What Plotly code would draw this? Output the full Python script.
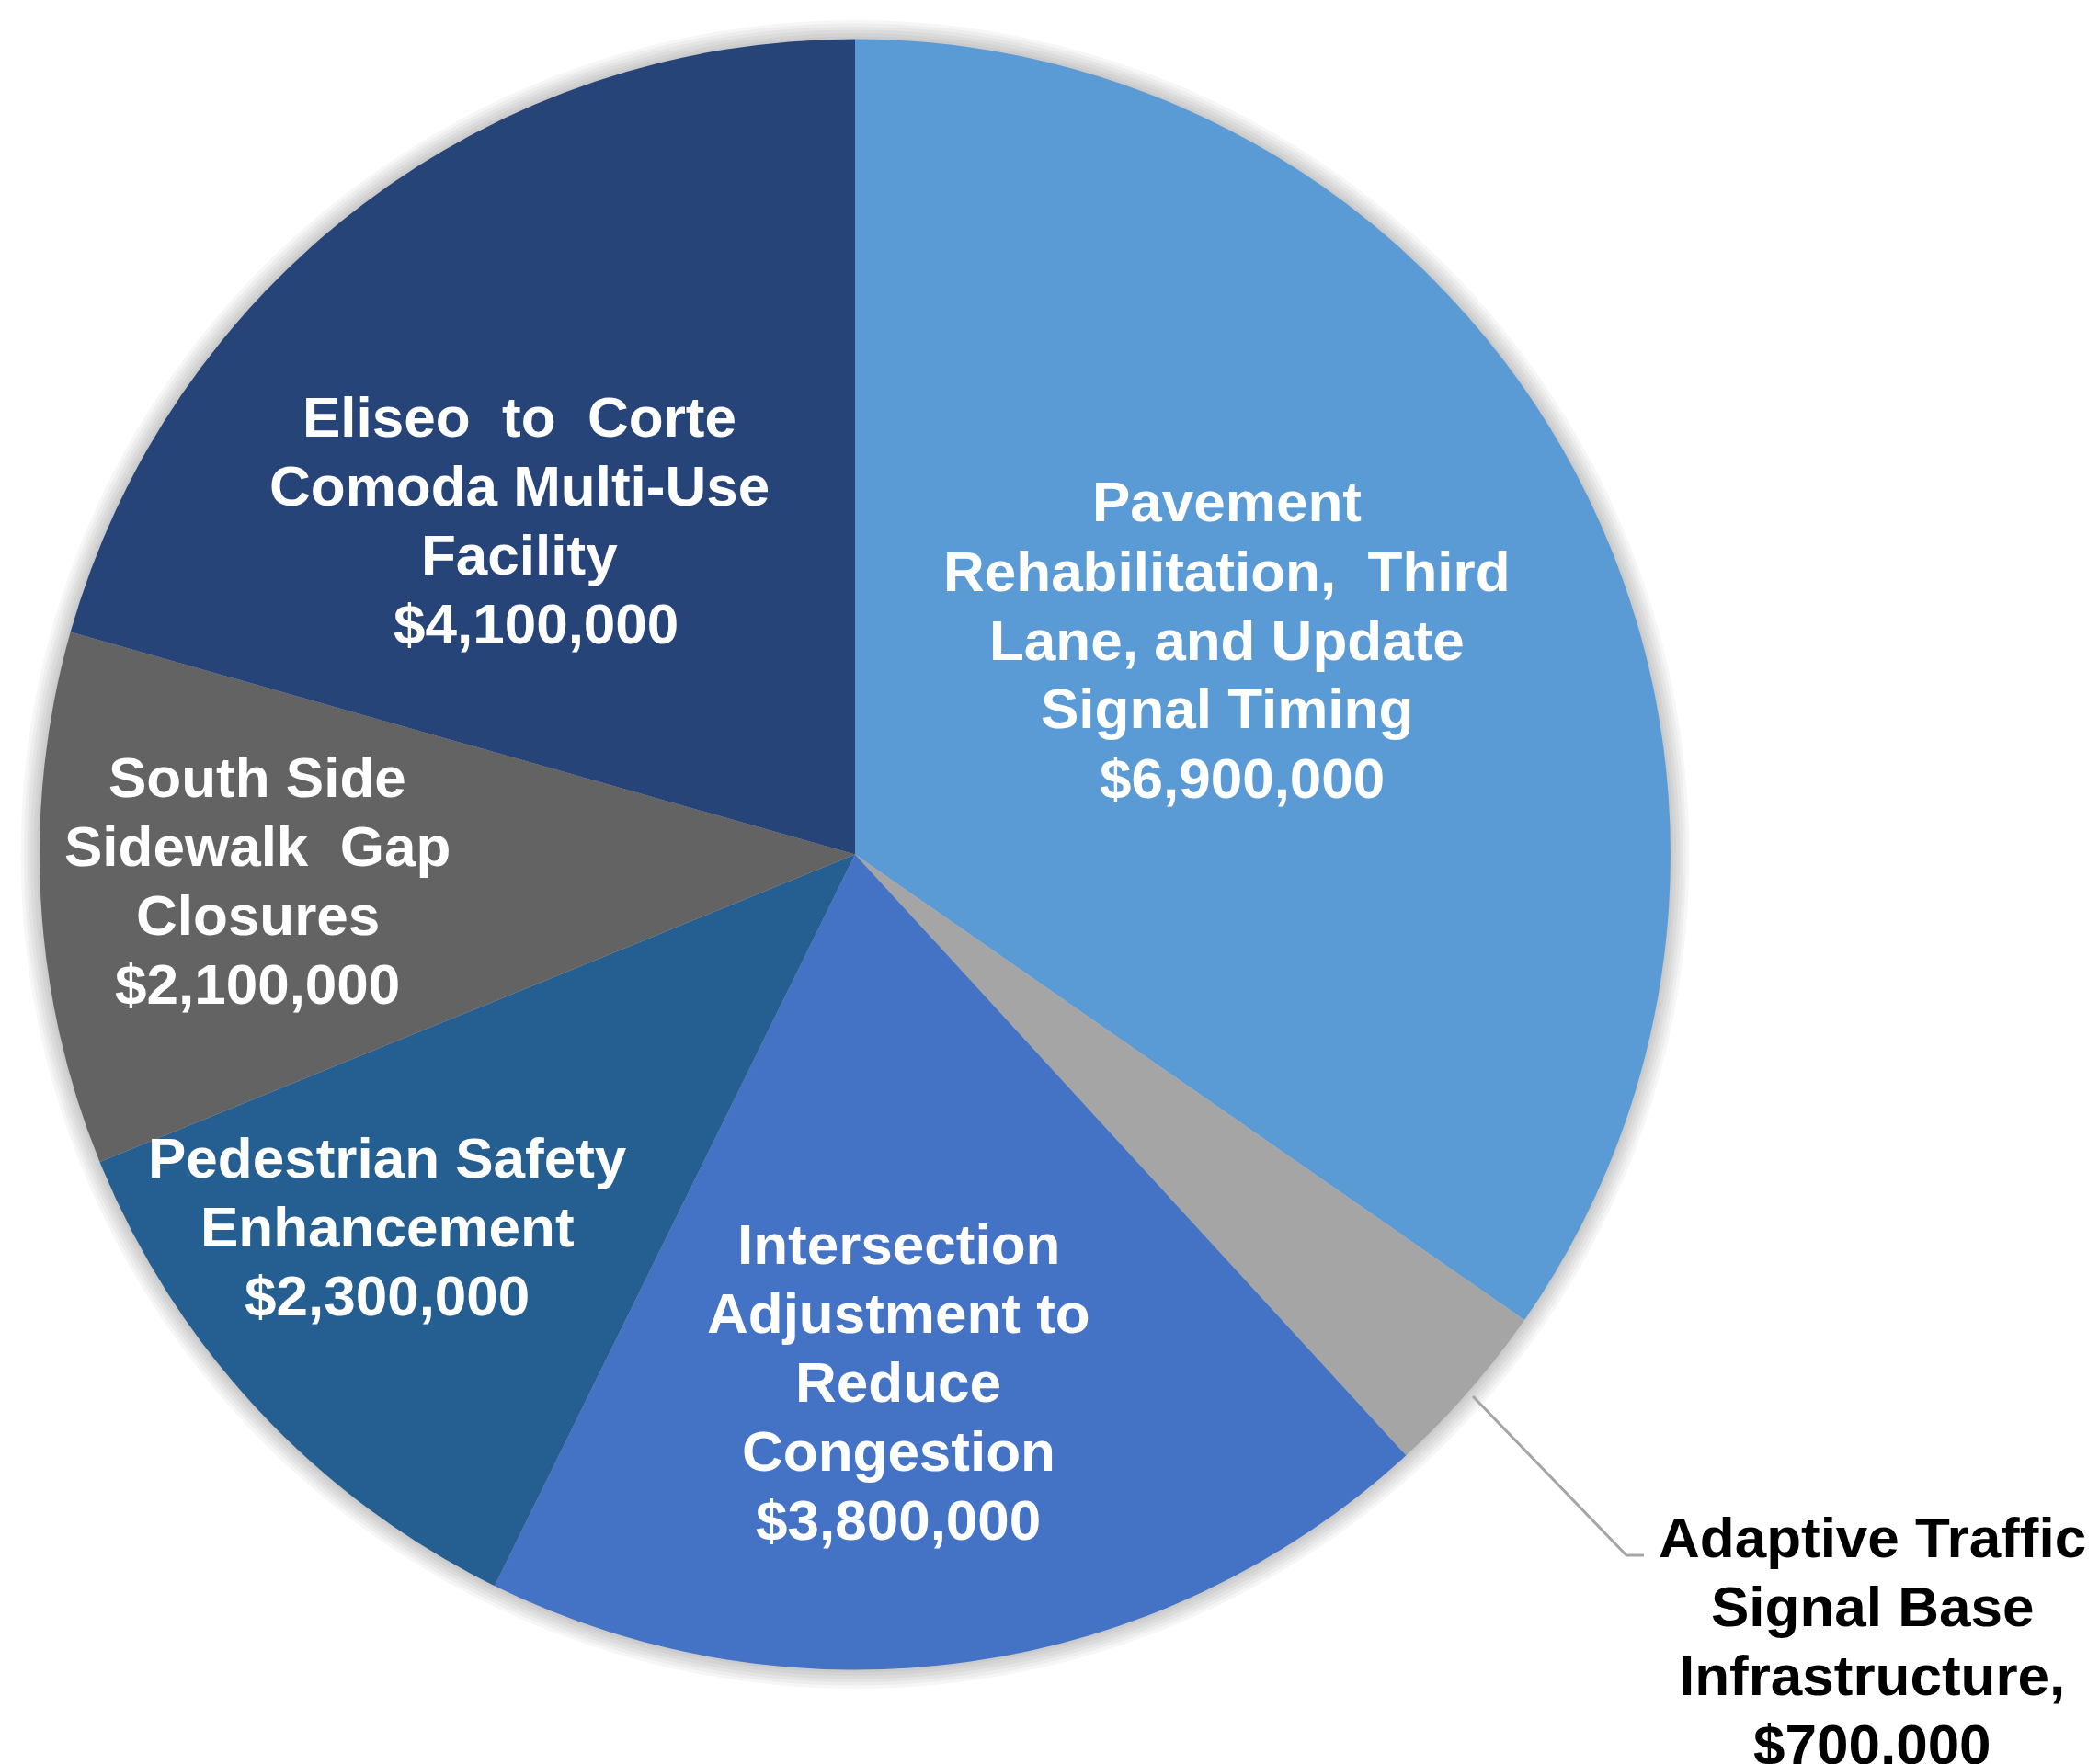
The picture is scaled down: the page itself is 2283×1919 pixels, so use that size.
import plotly.graph_objects as go

# ---- data ----
projects = [
    "Pavement Rehabilitation, Third Lane, and Update Signal Timing",
    "Adaptive Traffic Signal Base Infrastructure",
    "Intersection Adjustment to Reduce Congestion",
    "Pedestrian Safety Enhancement",
    "South Side Sidewalk Gap Closures",
    "Eliseo to Corte Comoda Multi-Use Facility",
]
costs = [6900000, 700000, 3800000, 2300000, 2100000, 4100000]
label_lines = [
    ["Pavement", "Rehabilitation,  Third", "Lane, and Update", "Signal Timing"],
    ["Adaptive Traffic", "Signal Base", "Infrastructure,"],
    ["Intersection", "Adjustment to", "Reduce", "Congestion"],
    ["Pedestrian Safety", "Enhancement"],
    ["South Side", "Sidewalk  Gap", "Closures"],
    ["Eliseo  to  Corte", "Comoda Multi-Use", "Facility"],
]

# ---- styles / layout ----
colors = ["#5B9BD5", "#A5A5A5", "#4472C4", "#255E91", "#636363", "#264478"]
W, H = 2283, 1919
OFF = 8  # page body margin of the html page
CX, CY, R = 930, 929.5, 887
# label block centers (page pixels), value-line x shift, colours
label_pos = [(1334, 696), (2036, 1785), (977, 1503), (421, 1334), (280, 958), (565, 566)]
value_dx = [17, 0, 0, 0, 0, 18]
label_col = ["white", "black", "white", "white", "white", "white"]
FONT_SIZE = 62
LINE_STEP = 75

def px(x):
    return (x - OFF) / W

def py(y):
    return 1 - (y - OFF) / H

fig = go.Figure(go.Pie(
    labels=projects,
    values=costs,
    sort=False,
    direction="clockwise",
    rotation=0,
    marker=dict(colors=colors, line=dict(width=0)),
    textinfo="none",
    hoverinfo="skip",
    domain=dict(x=[px(CX - R), px(CX + R)], y=[py(CY + R), py(CY - R)]),
))

annotations = []
for lines, v, (lx, ly), dxv, c in zip(label_lines, costs, label_pos, value_dx, label_col):
    all_lines = lines + [f"${v:,.0f}"]
    n = len(all_lines)
    for i, t in enumerate(all_lines):
        yy = ly + (i - (n - 1) / 2) * LINE_STEP
        xx = lx + (dxv if i == n - 1 else 0)
        annotations.append(dict(
            text=t, x=px(xx), y=py(yy), xref="paper", yref="paper",
            xanchor="center", yanchor="middle", showarrow=False, align="center",
            font=dict(family="Liberation Sans, Arial", size=FONT_SIZE, color=c, weight="bold"),
        ))

shapes = []
# soft shadow around pie
for i in range(6):
    d = 3 + i * 3.5
    shapes.append(dict(type="circle", xref="paper", yref="paper", layer="below",
                       x0=px(CX - R - d), x1=px(CX + R + d),
                       y0=py(CY + R + d), y1=py(CY - R - d),
                       fillcolor="rgba(0,0,0,0.035)", line=dict(width=0)))
# leader line for the small slice
shapes.append(dict(type="path", xref="paper", yref="paper",
                   path=f"M {px(1602)} {py(1519)} L {px(1769)} {py(1692)} L {px(1788)} {py(1692)}",
                   line=dict(color="#A5A5A5", width=3)))

fig.update_layout(
    width=W, height=H,
    margin=dict(l=0, r=0, t=0, b=0),
    paper_bgcolor="white", plot_bgcolor="white",
    showlegend=False,
    annotations=annotations,
    shapes=shapes,
)

fig.write_html("out.html")
